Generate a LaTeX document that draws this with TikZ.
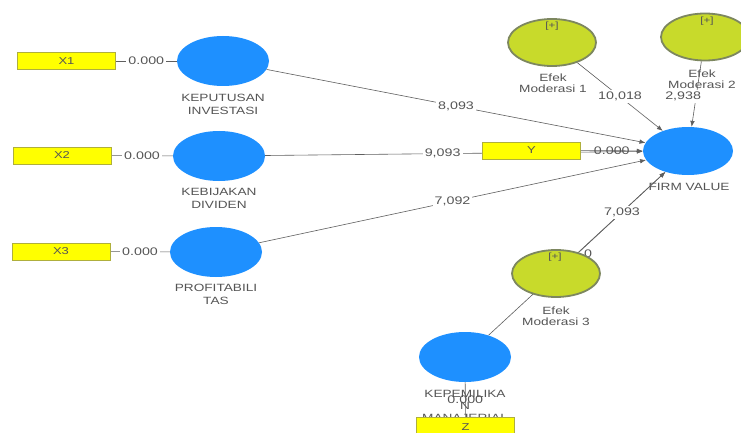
\documentclass[tikz,border=0pt]{standalone}
\usepackage{fontspec}
\setmainfont{Liberation Sans}[FakeStretch=1.3]
\usetikzlibrary{shapes.geometric,arrows.meta}
\pgfdeclarelayer{bglayer}
\pgfdeclarelayer{labellayer}
\pgfdeclarelayer{edgelayer}
\pgfsetlayers{bglayer,labellayer,edgelayer,main}
\definecolor{lvblue}{RGB}{30,144,255}
\definecolor{indfill}{RGB}{255,255,0}
\definecolor{indborder}{RGB}{175,175,60}
\definecolor{modfill}{RGB}{200,218,43}
\definecolor{modborder}{RGB}{125,135,95}
\definecolor{txt}{RGB}{85,85,85}
\definecolor{edgec}{RGB}{95,95,95}
\begin{document}
\begin{tikzpicture}[x=1pt,y=-1pt,
  lv/.style={ellipse, fill=lvblue, draw=none, minimum width=92pt, minimum height=50pt, inner sep=0pt},
  modv/.style={ellipse, fill=modfill, draw=modborder, line width=1.8pt, minimum width=88pt, minimum height=47pt, inner sep=0pt},
  indic/.style={rectangle, fill=indfill, draw=indborder, line width=0.5pt, minimum width=98pt, minimum height=17pt, inner sep=0pt, font=\fontsize{10}{12}\selectfont, text=txt},
  lbl/.style={align=center, font=\fontsize{10.5}{13}\selectfont, text=txt, inner sep=0pt},
  efl/.style={align=center, font=\fontsize{10.5}{11.5}\selectfont, text=txt, inner sep=0pt},
  plus/.style={font=\fontsize{9}{10}\selectfont, text=txt, inner sep=0pt},
  coef/.style={font=\fontsize{11}{12}\selectfont, text=txt, fill=white, inner sep=2pt},
  coefn/.style={font=\fontsize{11}{12}\selectfont, text=txt, inner sep=1pt},
  pth/.style={draw=edgec, line width=0.6pt, -{Latex[length=6pt,width=4.5pt]}},
  ldl/.style={draw=edgec, line width=0.6pt},
]
\useasboundingbox (0,0) rectangle (741,433);
\clip (0,0) rectangle (741,433);
\begin{pgfonlayer}{bglayer}
\fill[white] (0,0) rectangle (741,433);
\end{pgfonlayer}

% latent variables
\node[lv] (kp) at (223,61) {};
\node[lv] (kb) at (219,156) {};
\node[lv] (pr) at (216,252) {};
\node[lv, minimum width=90pt, minimum height=48pt] (fv) at (688,151) {};
\node[lv] (km) at (465,357) {};
\node[modv] (m1) at (552,42.5) {};
\node[modv] (m2) at (705,37) {};
\node[modv] (m3) at (556,273.5) {};
\node[plus] (p1) at (552,26) {[+]};
\node[plus] (p2) at (707,21) {[+]};
\node[plus] (p3) at (555,257) {[+]};

% indicators
\node[indic] (x1) at (66.5,61) {X1};
\node[indic] (x2) at (62,155.5) {X2};
\node[indic] (x3) at (61,251.5) {X3};
\node[indic] (y) at (531.5,150.5) {Y};
\node[indic, minimum height=20pt] (z) at (465.5,427) {Z};

% labels
\begin{pgfonlayer}{labellayer}
\node[lbl] (lkp) at (223,104) {KEPUTUSAN\\INVESTASI};
\node[lbl] (lkb) at (219,198) {KEBIJAKAN\\DIVIDEN};
\node[lbl] (lpr) at (216,294) {PROFITABILI\\TAS};
\node[lbl] (lfv) at (689,187) {FIRM VALUE};
\node[lbl, font=\fontsize{10.5}{12}\selectfont] (lkm) at (465,406) {KEPEMILIKA\\N\\MANAJERIAL};
\node[efl] (lm1) at (553,83) {Efek\\Moderasi 1};
\node[efl] (lm2) at (702,79) {Efek\\Moderasi 2};
\node[efl] (lm3) at (556,316) {Efek\\Moderasi 3};
\end{pgfonlayer}

% connectors
\begin{pgfonlayer}{edgelayer}
\draw[ldl] (x1) -- node[coef] {0.000} (kp);
\draw[ldl] (x2) -- node[coef] {0.000} (kb);
\draw[ldl] (x3) -- node[coef] {0.000} (pr);
\draw[pth] (kp) -- node[coef] {8,093} (fv);
\draw[pth] (kb) -- node[coef, pos=0.47] {9,093} (fv);
\draw[pth] (pr) -- node[coef] {7,092} (fv);
\draw[pth] (y) -- node[coefn] {0.000} (fv);
\draw[pth] (m1) -- node[coef] {10,018} (fv);
\draw[pth] (m2) -- node[coef, pos=0.535, xshift=-13pt] {2,938} (fv);
\draw[pth] (km) -- (fv);
\node[coefn] (hid) at (588,254) {0};
\draw[pth] (m3) -- node[coef] {7,093} (fv);
\draw[ldl] (z) -- node[coefn] {0.000} (km);
\end{pgfonlayer}
\end{tikzpicture}
\end{document}
